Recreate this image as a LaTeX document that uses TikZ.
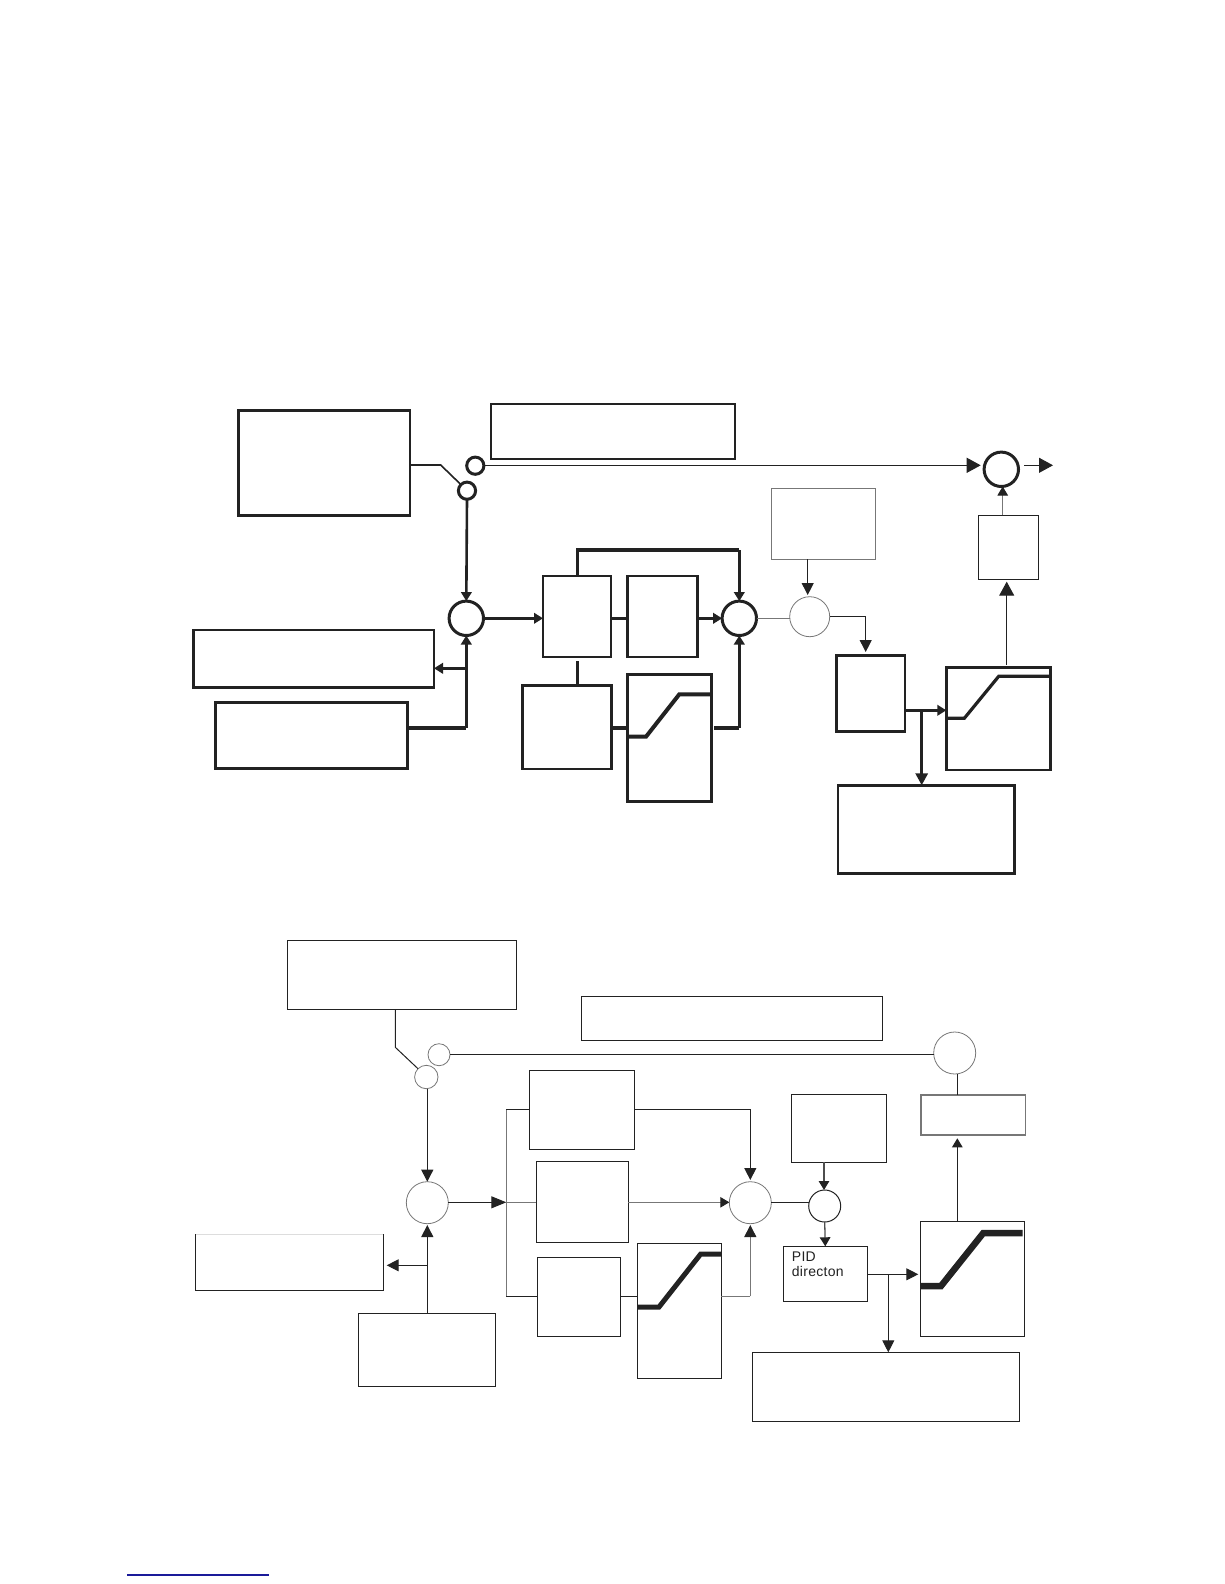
\documentclass[tikz,border=0pt]{standalone}
\usepackage{fontspec}
\setmainfont{Liberation Sans}
\usetikzlibrary{arrows.meta}
\definecolor{ink}{HTML}{222222}
\definecolor{soft}{HTML}{777777}
\definecolor{pale}{HTML}{DDDDDD}
\definecolor{linkblue}{HTML}{1A1A99}
\tikzset{
  hv/.style={draw=ink,line width=2.8pt,fill=white,rectangle,inner sep=0pt,outer sep=0pt},
  lt/.style={draw=ink,line width=1pt,fill=white,rectangle,inner sep=0pt,outer sep=0pt},
  paleb/.style={draw=pale,line width=1pt,fill=white,rectangle,inner sep=0pt,outer sep=0pt},
  grayb/.style={draw=soft,line width=1.1pt,fill=white,rectangle,inner sep=0pt,outer sep=0pt},
  graythick/.style={draw=soft,line width=1.6pt,fill=white,rectangle,inner sep=0pt,outer sep=0pt},
  sumhv/.style={draw=ink,line width=3pt,fill=white,circle,inner sep=0pt,outer sep=0pt},
  sumlt/.style={draw=soft,line width=.8pt,fill=white,circle,inner sep=0pt,outer sep=0pt},
  sumdk/.style={draw=ink,line width=1pt,fill=white,circle,inner sep=0pt,outer sep=0pt},
  wire/.style={draw=ink,line width=1pt},
  wirehv/.style={draw=ink,line width=2.6pt},
  wiremax/.style={draw=ink,line width=3.2pt},
  wiregray/.style={draw=soft,line width=.9pt},
  wiremid/.style={draw=ink!80,line width=1.3pt},
  curve/.style={draw=ink,miter limit=10},
  sm/.style={-{Triangle[length=9pt,width=10.5pt,color=ink]}},
  md/.style={-{Triangle[length=12pt,width=12pt,color=ink]}},
  lg/.style={-{Triangle[length=14pt,width=15pt,color=ink]}},
  lgn/.style={-{Triangle[length=15pt,width=12pt,color=ink]}},
}
\newcommand{\bx}[6]{\node[#2,minimum width={(#5)-(#3)},minimum height={(#6)-(#4)}] (#1) at ({((#3)+(#5))/2},{((#4)+(#6))/2}) {};}
\newcommand{\cc}[5]{\node[#2,minimum size={2*(#5)}] (#1) at (#3,#4) {};}
\begin{document}
\begin{tikzpicture}[x=1pt,y=-1pt]
\useasboundingbox (0,0) rectangle (1224,1584);
\fill[white] (0,0) rectangle (1224,1584);

% ---------- upper diagram: boxes
\bx{A}{hv}{238.7}{410.7}{410}{515.3}
\bx{T}{hv}{491}{404}{735}{459}
\bx{LA}{hv}{193.3}{630}{434}{687.7}
\bx{LB}{hv}{215.3}{702.7}{407.3}{768.7}
\bx{P}{hv}{543}{576}{611}{657}
\bx{I}{hv}{627.3}{576}{697.3}{657}
\bx{D}{hv}{522.7}{685.7}{611.3}{769}
\bx{LimA}{hv}{627.3}{674.3}{711.7}{801.7}
\bx{U}{grayb}{771.3}{488.7}{875.3}{559.3}
\bx{Dir}{hv}{836.7}{655.7}{905}{731.3}
\bx{LimB}{hv}{946.3}{667.7}{1050.7}{770}
\bx{Out}{hv}{838}{785.3}{1014.7}{873.3}
\bx{G}{lt}{978.7}{515.3}{1038.3}{579.3}
\cc{SwU}{sumhv}{475.3}{465.7}{8.6}
\cc{SwL}{sumhv}{467}{490.7}{8.6}
\cc{SA}{sumhv}{466.3}{618.3}{17.2}
\cc{SB}{sumhv}{739.3}{618.3}{17.2}
\cc{SC}{sumlt}{809.7}{616.7}{20}
\cc{SD}{sumhv}{1001.3}{469.3}{17.2}

% helpers
\coordinate (sw1) at (440.7,465);
\coordinate (ja) at (577.3,550);
\coordinate (stub) at (577.3,661);
\coordinate (jl) at (466.3,728);
\coordinate (jb) at (466.3,668.3);
\coordinate (limout) at (714.3,728);
\coordinate (jc) at (865.7,616.3);
\coordinate (jd) at (921.7,710.3);
\coordinate (outa) at (1024,465.3);
\coordinate (outb) at (1053,465.3);

% ---------- upper diagram: connectors
\draw[wire,line width=1.6pt] (A.east |- sw1) -- (sw1) -- (SwL.135);
\draw[wire,lg] (SwU.east |- outa) -- (980.7,465.3);
\draw[wirehv,sm] (SwL.south) -- (SA.north);
\draw[wiremax] (LB.east |- jl) -- (jl);
\draw[wirehv,sm] (jl) -- (SA.south);
\draw[wirehv,sm] (jb) -- (LA.east |- jb);
\draw[wirehv,sm] (SA.east) -- (P.west |- SA.east);
\draw[wiremax] (P.north -| ja) -- (ja) -- (ja -| SB.north);
\draw[wirehv,sm] (ja -| SB.north) -- (SB.north);
\draw[wirehv] (stub) -- (stub |- D.north);
\draw[wirehv] (P.east |- SA.east) -- (I.west |- SA.east);
\draw[wiremax,sm] (I.east |- SB.west) -- (SB.west);
\draw[wiremax] (D.east |- limout) -- (LimA.west |- limout);
\draw[wiremax] (limout) -- (limout -| SB.south);
\draw[wirehv,sm] (limout -| SB.south) -- (SB.south);
\draw[wiregray] (SB.east) -- (SC.west |- SB.east);
\draw[wire,md] (U.south -| 807.7,0) -- (807.7,595);
\draw[wire] (SC.east |- jc) -- (jc);
\draw[wire,md] (jc) -- (865.7,652);
\draw[wiremax,sm] (Dir.east |- jd) -- (LimB.west |- jd);
\draw[wiremax,md] (jd) -- (jd |- Out.north);
\draw[wire,lg] (LimB.north -| 1006.7,0) ++(0,-3) -- (1006.7,581.7);
\draw[wiregray,sm] (G.north -| 1002.7,0) -- (SD.south -| 1002.7,0);
\draw[wire,lg] (outa) -- (outb);

% limiter curves, upper
\draw[curve,line width=4pt] (LimA.west |- 0,736.7) -- (646,736.7) -- (679.3,694.3) -- (LimA.east |- 0,694.3);
\draw[curve,line width=3.2pt] (LimB.west |- 0,718.3) -- (964.3,718.3) -- (998.7,676.3) -- (LimB.east |- 0,676.3);

% ---------- lower diagram: boxes
\bx{a}{lt}{287.3}{940.3}{516.3}{1009.3}
\bx{t}{lt}{581.3}{996.3}{882.3}{1040.3}
\bx{la}{paleb}{195.7}{1234}{383.3}{1290.7}
\bx{lb}{lt}{358.3}{1313.3}{495.3}{1386.3}
\bx{p}{lt}{529.3}{1070.3}{634.3}{1149.3}
\bx{i}{lt}{536.3}{1161.3}{628.3}{1242.3}
\bx{d}{lt}{537.3}{1257.3}{620.3}{1336.3}
\bx{lima}{lt}{637.3}{1243.3}{721.3}{1378.3}
\bx{u}{lt}{791.3}{1094.3}{886.3}{1162.3}
\bx{dir}{lt}{783.3}{1246.3}{867.3}{1301.3}
\bx{limb}{lt}{920.3}{1221.3}{1024.3}{1336.3}
\bx{out}{lt}{752.3}{1352.3}{1019.3}{1421.3}
\bx{g}{graythick}{920.7}{1094.7}{1025.3}{1135}
\cc{swu}{sumlt}{439}{1054.7}{11}
\cc{swl}{sumlt}{426.3}{1077}{11.7}
\cc{sa}{sumlt}{427.3}{1202.7}{21}
\cc{sb}{sumlt}{750.3}{1202.7}{21}
\cc{sc}{sumdk}{824.7}{1206}{16}
\cc{sd}{sumlt}{954.7}{1053}{21}

% three dark sides of the box with the pale top edge
\draw[ink,line width=1.4pt] (la.north west) -- (la.south west) -- (la.south east) -- (la.north east);

\coordinate (sw2) at (395.3,1047.3);
\coordinate (ka) at (506.3,1202.3);
\coordinate (kb) at (427.3,1265.3);
\coordinate (kc) at (750.3,1109.3);
\coordinate (kd) at (750.3,1296.3);
\coordinate (ke) at (888.3,1274.3);
\coordinate (kp) at (506.3,1109.3);
\coordinate (kq) at (506.3,1296.3);
\coordinate (wtip) at (1035,1055.3);
\coordinate (wtipb) at (1045,1055.3);

% ---------- lower diagram: connectors
\draw[wire] (a.south -| sw2) -- (sw2) -- (swl.135);
\draw[wire] (swu.east |- 0,1054.3) -- (sd.west |- 0,1054.3);
\draw[wire,md] (427.3,1088.7) -- (sa.north);
\draw[wire,lgn] (sa.east |- ka) -- (ka);
\draw[wiregray] (ka) -- (i.west |- ka);
\draw[wiregray] (kp) -- (kq);
\draw[wire] (kp) -- (p.west |- kp);
\draw[wire] (kq) -- (d.west |- kq);
\draw[wire,md] (lb.north -| sa.south) -- (427.3,1225);
\draw[wire,md] (kb) -- (386.7,1265.3);
\draw[wire] (p.east |- kc) -- (kc);
\draw[wire,md] (kc) -- (750.3,1180);
\draw[wiregray,sm] (i.east |- ka) -- (sb.west |- ka);
\draw[wire] (d.east |- kd) -- (lima.west |- kd);
\draw[wiregray] (lima.east |- kd) -- (kd);
\draw[wiregray,md] (kd) -- (750.3,1225);
\draw[wire] (sb.east |- ka) -- (sc.west |- ka);
\draw[wiremid,sm] (824,1162.3) -- (824,1190);
\draw[wiremid,sm] (sc.south) -- (dir.north);
\draw[wire,md] (dir.east |- ke) -- (918.3,1274.3);
\draw[wire,md] (ke) -- (ke |- out.north);
\draw[wire,sm] (limb.north -| 957.3,0) -- (957.3,1138.3);
\draw[wire] (g.north -| 957.3,0) -- (957.3,1074);
\draw[draw=none,-{Triangle[length=10pt,width=10pt,color=ink]}] (wtip) -- (wtipb);

% limiter curves, lower
\draw[curve,line width=5pt] (lima.west |- 0,1307) -- (659,1307) -- (700.7,1254) -- (lima.east |- 0,1254);
\draw[curve,line width=6.5pt] (limb.west |- 0,1286) -- (941,1286) -- (983.3,1233) -- (1022.7,1233);

% label
\node[anchor=base west,inner sep=0pt,font=\addfontfeatures{LetterSpace=2}\fontsize{14}{15}\selectfont,text=ink] (pidlabel) at (791.7,1261.7) {PID};
\node[anchor=base west,inner sep=0pt,font=\addfontfeatures{LetterSpace=2}\fontsize{14}{15}\selectfont,text=ink] (dirlabel) at (791.7,1276.7) {directon};

% footer rule
\coordinate (fa) at (127.3,1575);
\coordinate (fb) at (268.7,1575);
\draw[linkblue,line width=1.1pt] (fa) -- (fb);
\end{tikzpicture}
\end{document}
